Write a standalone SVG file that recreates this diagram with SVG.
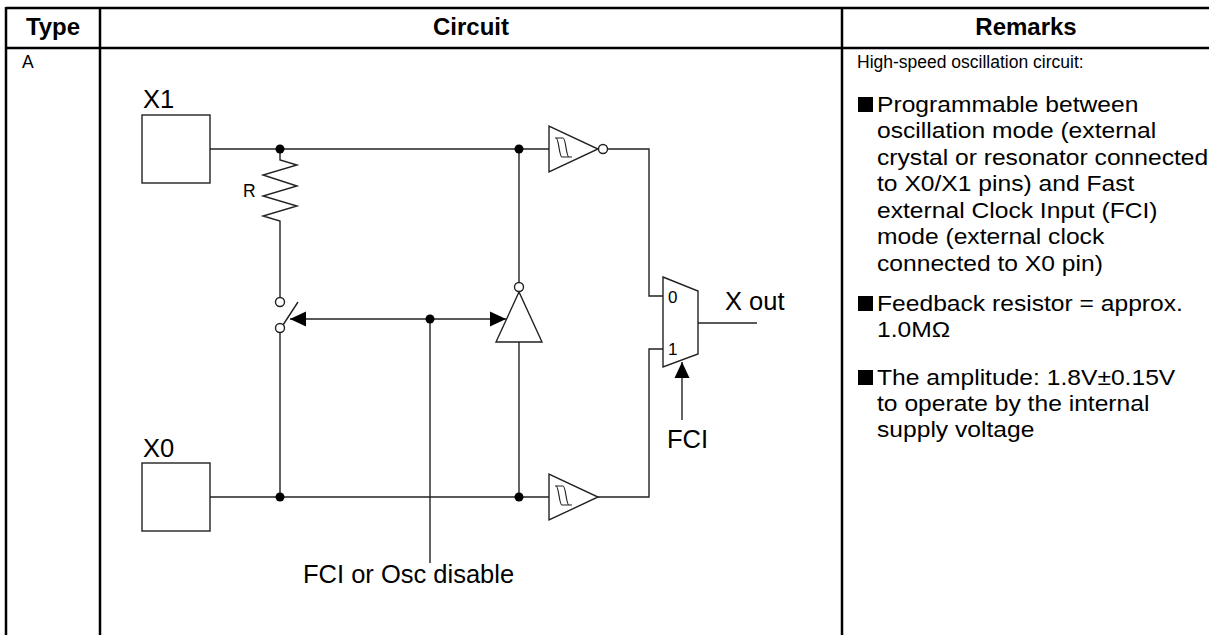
<svg xmlns="http://www.w3.org/2000/svg" width="1209" height="635" viewBox="0 0 1209 635">
<style>
.tbl{stroke:#000;stroke-width:2.5;fill:none}
.w{stroke:#222;stroke-width:1.4;fill:none;stroke-linejoin:miter}
.sh{stroke:#222;stroke-width:1.4;fill:#fff}
.dot{fill:#000}
.hdr{font-family:"Liberation Sans",Arial,sans-serif;font-weight:bold;font-size:24px;fill:#000;text-anchor:middle}
.lbl{font-family:"Liberation Sans",Arial,sans-serif;font-size:25.5px;fill:#000}
.sm{font-family:"Liberation Sans",Arial,sans-serif;font-size:17.5px;fill:#000}
.mx{font-family:"Liberation Sans",Arial,sans-serif;font-size:17px;fill:#000}
.rm{font-family:"Liberation Sans",Arial,sans-serif;font-size:22px;fill:#000}
.bul{fill:#000}
</style>
<defs>
<marker id="arr" markerUnits="userSpaceOnUse" markerWidth="16" markerHeight="16" viewBox="0 0 16 16" refX="16" refY="8" orient="auto-start-reverse">
<path d="M0,0.5 L16,8 L0,15.5 z" fill="#000"/>
</marker>
<g id="schmitt">
<path d="M-8,-11 H0 C3,-11 3,8 6,8 H9 M-7,-11 C-4,-11 -4,8 -1,8 H6" stroke="#222" stroke-width="1.2" fill="none"/>
</g>
</defs>
<rect width="1209" height="635" fill="#fff"/>

<g id="table">
<line class="tbl" x1="6" y1="8" x2="1209" y2="8"/>
<line class="tbl" x1="6" y1="48" x2="1209" y2="48"/>
<line class="tbl" x1="6" y1="7" x2="6" y2="635"/>
<line class="tbl" x1="100" y1="8" x2="100" y2="635"/>
<line class="tbl" x1="842" y1="8" x2="842" y2="635"/>
<text class="hdr" x="53" y="35">Type</text>
<text class="hdr" x="471" y="35">Circuit</text>
<text class="hdr" x="1026" y="35">Remarks</text>
<text class="sm" x="22" y="68">A</text>
</g>

<g id="connectors">
<polyline class="w" points="210,149 549,149"/>
<polyline class="w" points="210,497 549,497"/>
<polyline class="w" points="280,149 280,160 297,165 263,175 297,186 263,196 297,206 263,216 280,221 280,297.5"/>
<line class="w" x1="280" y1="332.5" x2="280" y2="497"/>
<line class="w" x1="519" y1="149" x2="519" y2="282.5"/>
<line class="w" x1="519" y1="342" x2="519" y2="497"/>
<polyline class="w" points="607.5,149 649,149 649,296 663,296"/>
<polyline class="w" points="598,497 649,497 649,349 663,349"/>
<line class="w" x1="698" y1="323" x2="757" y2="323"/>
<line class="w" x1="290" y1="319" x2="506" y2="319" marker-start="url(#arr)" marker-end="url(#arr)"/>
<line class="w" x1="430" y1="319" x2="430" y2="563"/>
<line class="w" x1="682" y1="420" x2="682" y2="362" marker-end="url(#arr)"/>
<circle class="dot" cx="280" cy="149" r="4.5"/>
<circle class="dot" cx="519" cy="149" r="4.5"/>
<circle class="dot" cx="280" cy="497" r="4.5"/>
<circle class="dot" cx="519" cy="497" r="4.5"/>
<circle class="dot" cx="430" cy="319" r="4.5"/>
</g>

<g id="pin-x1">
<rect class="sh" x="142" y="115" width="68" height="68"/>
<text class="lbl" x="143" y="108">X1</text>
</g>
<g id="pin-x0">
<rect class="sh" x="142" y="463" width="68" height="68"/>
<text class="lbl" x="143" y="457">X0</text>
</g>
<g id="resistor">
<text class="sm" x="243" y="197" font-size="18.5">R</text>
</g>
<g id="switch">
<circle class="sh" cx="280" cy="302" r="4.5"/>
<circle class="sh" cx="280" cy="328" r="4.5"/>
<line class="w" x1="283" y1="325" x2="298" y2="302"/>
</g>
<g id="buffer-top">
<polygon class="sh" points="549,126 549,172 598,149"/>
<circle class="sh" cx="603" cy="149" r="4.5"/>
<use href="#schmitt" x="563" y="149"/>
</g>
<g id="buffer-bottom">
<polygon class="sh" points="549,474 549,520 598,497"/>
<use href="#schmitt" x="563" y="497"/>
</g>
<g id="buffer-enable">
<polygon class="sh" points="519,292 496,342 542,342"/>
<circle class="sh" cx="519" cy="287" r="4.5"/>
</g>
<g id="mux">
<polygon class="sh" points="663,277 698,291 698,354 663,367"/>
<text class="mx" x="668" y="303">0</text>
<text class="mx" x="668" y="355">1</text>
<text class="lbl" x="725" y="310">X out</text>
<text class="lbl" x="667" y="448">FCI</text>
</g>
<g id="ctrl-label">
<text class="lbl" x="303" y="583">FCI or Osc disable</text>
</g>

<g id="remarks">
<text class="sm" x="857" y="68">High-speed oscillation circuit:</text>
<rect class="bul" x="858" y="97" width="15" height="15"/>
<rect class="bul" x="858" y="296" width="15" height="15"/>
<rect class="bul" x="858" y="370" width="15" height="15"/>
<g transform="translate(877 0) scale(1.12 1)">
<text class="rm" x="0" y="112">Programmable between</text>
<text class="rm" x="0" y="138.5">oscillation mode (external</text>
<text class="rm" x="0" y="165">crystal or resonator connected</text>
<text class="rm" x="0" y="191.5">to X0/X1 pins) and Fast</text>
<text class="rm" x="0" y="218">external Clock Input (FCI)</text>
<text class="rm" x="0" y="244.5">mode (external clock</text>
<text class="rm" x="0" y="271">connected to X0 pin)</text>
<text class="rm" x="0" y="311">Feedback resistor = approx.</text>
<text class="rm" x="0" y="337.5">1.0MΩ</text>
<text class="rm" x="0" y="385">The amplitude: 1.8V±0.15V</text>
<text class="rm" x="0" y="411">to operate by the internal</text>
<text class="rm" x="0" y="437">supply voltage</text>
</g>
</g>
</svg>
